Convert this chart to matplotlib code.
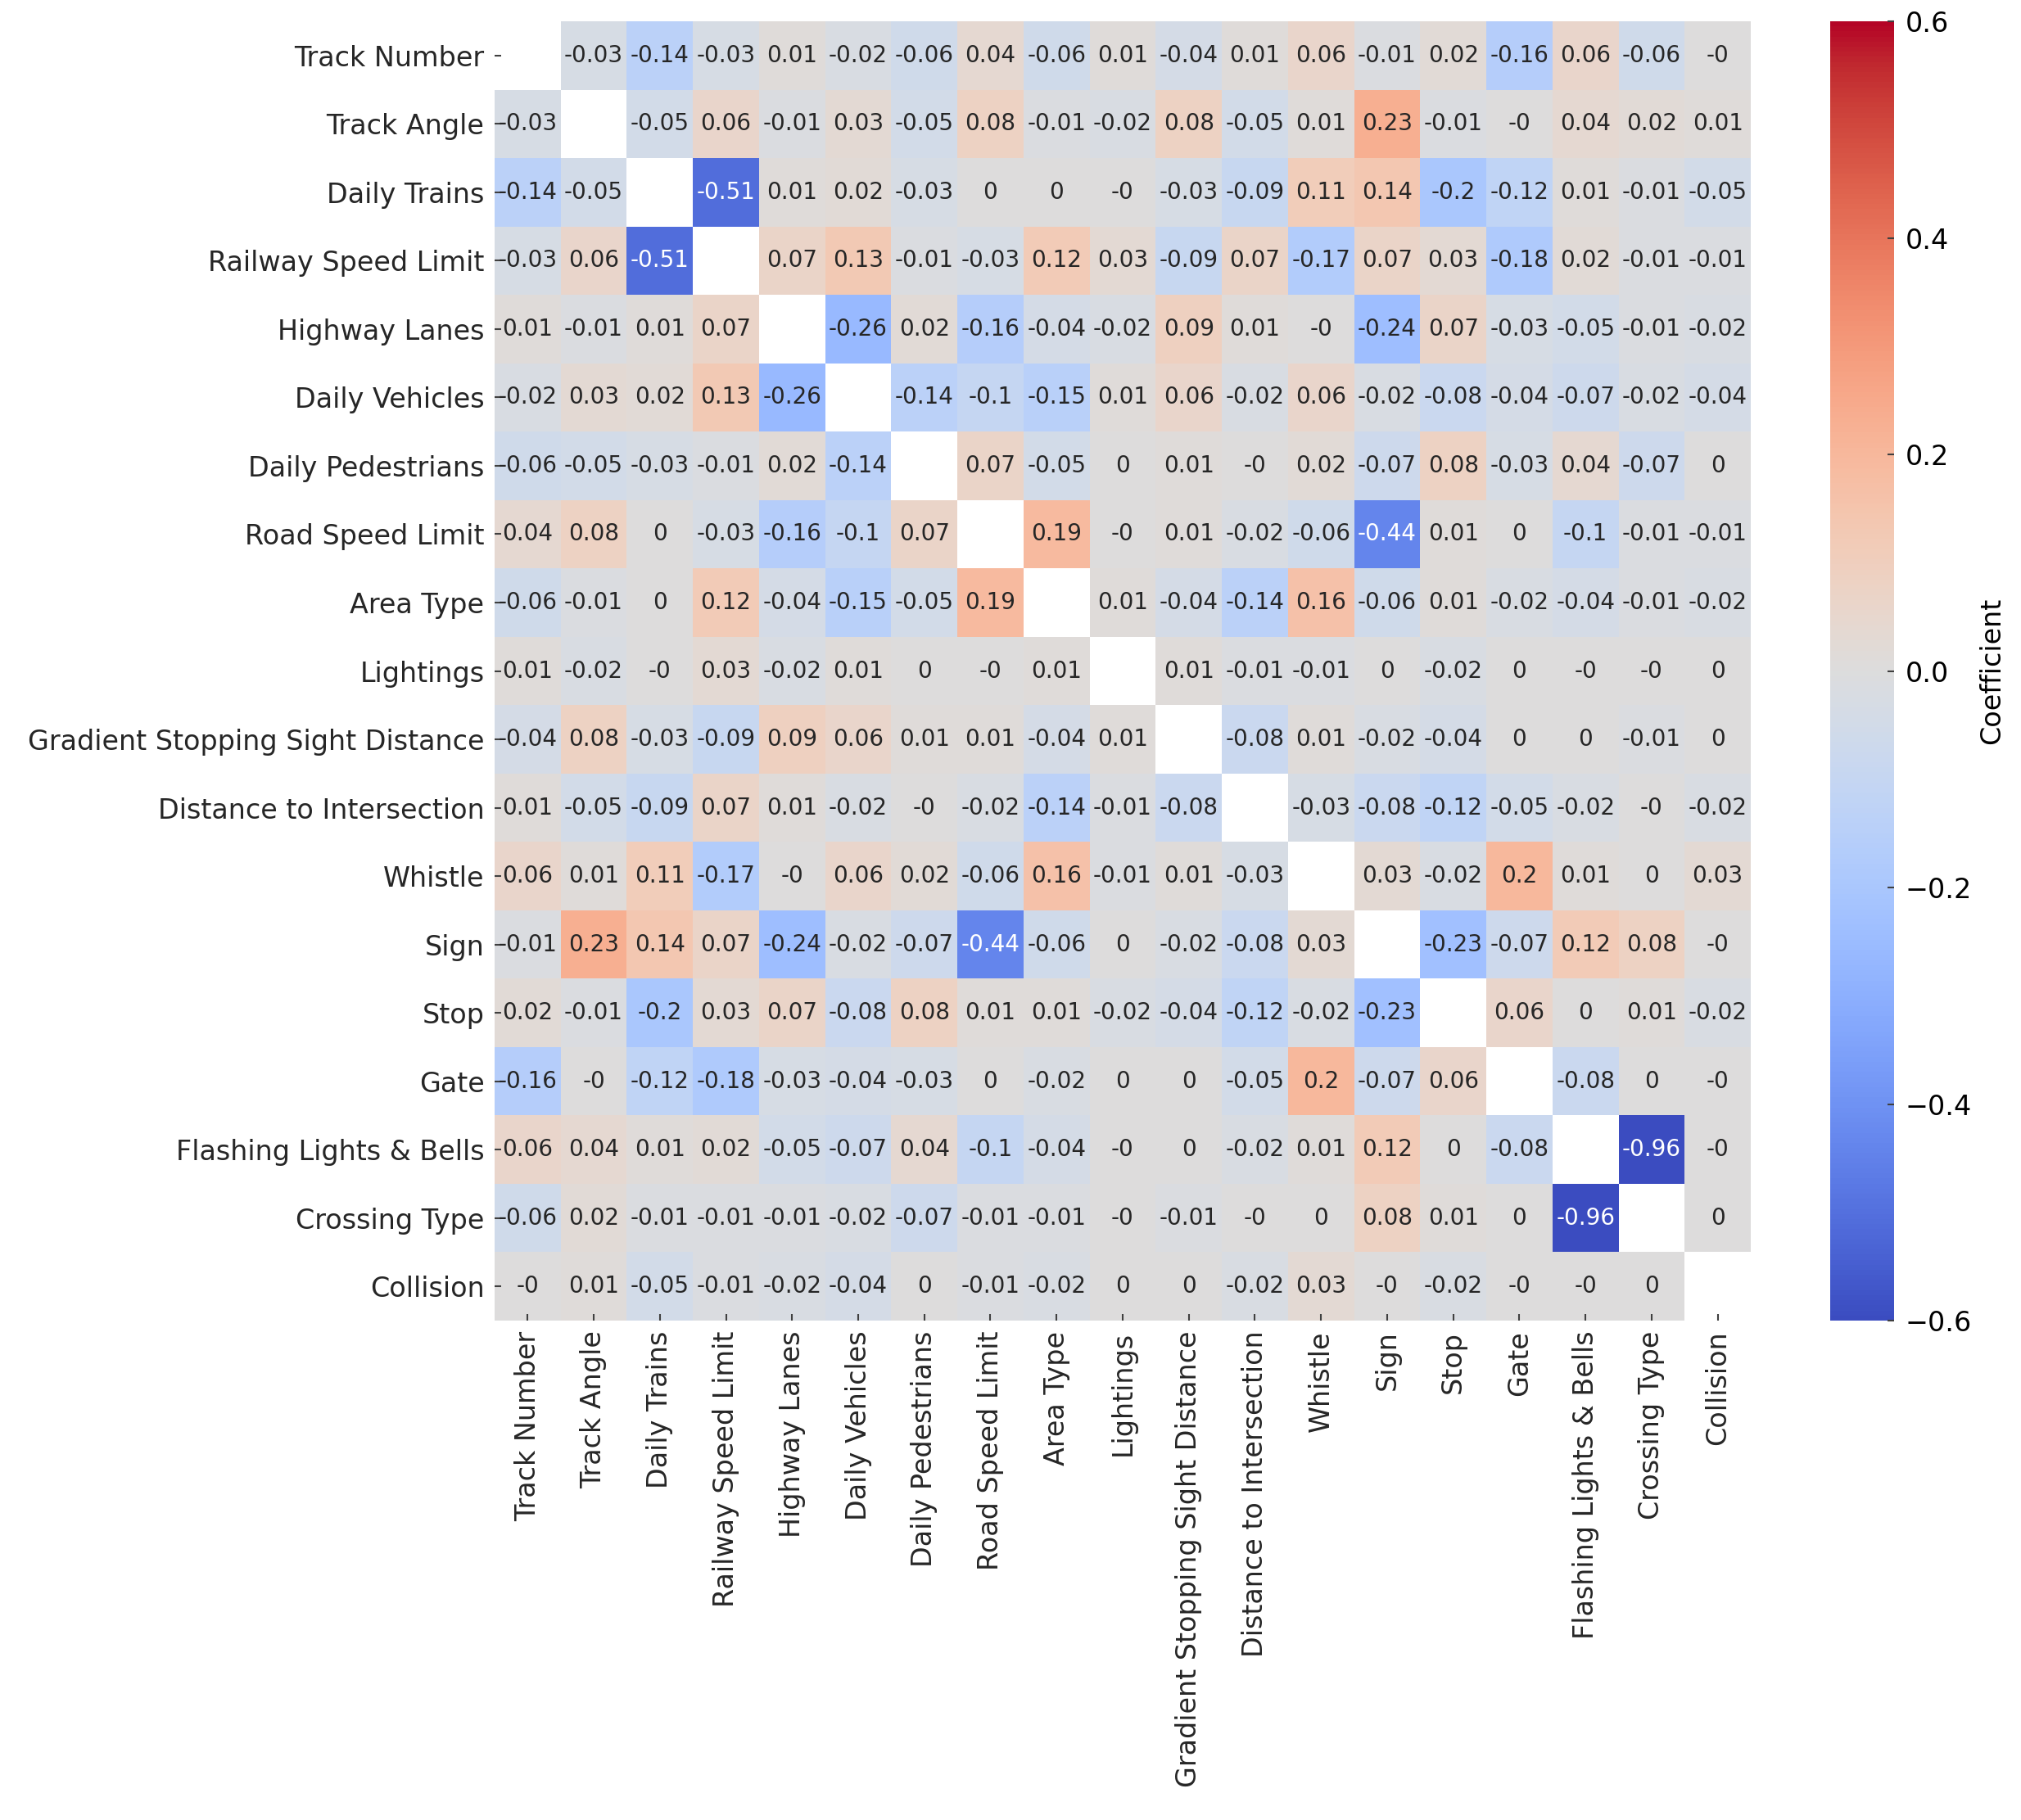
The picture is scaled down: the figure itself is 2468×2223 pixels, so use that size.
import matplotlib
matplotlib.use('Agg')
import matplotlib.pyplot as plt
import numpy as np

labels = [
    'Track Number', 'Track Angle', 'Daily Trains', 'Railway Speed Limit',
    'Highway Lanes', 'Daily Vehicles', 'Daily Pedestrians', 'Road Speed Limit',
    'Area Type', 'Lightings', 'Gradient Stopping Sight Distance',
    'Distance to Intersection', 'Whistle', 'Sign', 'Stop', 'Gate',
    'Flashing Lights & Bells', 'Crossing Type', 'Collision',
]

nan = np.nan
# correlation coefficients, rounded to 2 decimals (diagonal left blank)
corr_rows = [
    [nan, -0.03, -0.14, -0.03, 0.01, -0.02, -0.06, 0.04, -0.06, 0.01, -0.04, 0.01, 0.06, -0.01, 0.02, -0.16, 0.06, -0.06, -0.0],
    [-0.03, nan, -0.05, 0.06, -0.01, 0.03, -0.05, 0.08, -0.01, -0.02, 0.08, -0.05, 0.01, 0.23, -0.01, -0.0, 0.04, 0.02, 0.01],
    [-0.14, -0.05, nan, -0.51, 0.01, 0.02, -0.03, 0.0, 0.0, -0.0, -0.03, -0.09, 0.11, 0.14, -0.2, -0.12, 0.01, -0.01, -0.05],
    [-0.03, 0.06, -0.51, nan, 0.07, 0.13, -0.01, -0.03, 0.12, 0.03, -0.09, 0.07, -0.17, 0.07, 0.03, -0.18, 0.02, -0.01, -0.01],
    [0.01, -0.01, 0.01, 0.07, nan, -0.26, 0.02, -0.16, -0.04, -0.02, 0.09, 0.01, -0.0, -0.24, 0.07, -0.03, -0.05, -0.01, -0.02],
    [-0.02, 0.03, 0.02, 0.13, -0.26, nan, -0.14, -0.1, -0.15, 0.01, 0.06, -0.02, 0.06, -0.02, -0.08, -0.04, -0.07, -0.02, -0.04],
    [-0.06, -0.05, -0.03, -0.01, 0.02, -0.14, nan, 0.07, -0.05, 0.0, 0.01, -0.0, 0.02, -0.07, 0.08, -0.03, 0.04, -0.07, 0.0],
    [0.04, 0.08, 0.0, -0.03, -0.16, -0.1, 0.07, nan, 0.19, -0.0, 0.01, -0.02, -0.06, -0.44, 0.01, 0.0, -0.1, -0.01, -0.01],
    [-0.06, -0.01, 0.0, 0.12, -0.04, -0.15, -0.05, 0.19, nan, 0.01, -0.04, -0.14, 0.16, -0.06, 0.01, -0.02, -0.04, -0.01, -0.02],
    [0.01, -0.02, -0.0, 0.03, -0.02, 0.01, 0.0, -0.0, 0.01, nan, 0.01, -0.01, -0.01, 0.0, -0.02, 0.0, -0.0, -0.0, 0.0],
    [-0.04, 0.08, -0.03, -0.09, 0.09, 0.06, 0.01, 0.01, -0.04, 0.01, nan, -0.08, 0.01, -0.02, -0.04, 0.0, 0.0, -0.01, 0.0],
    [0.01, -0.05, -0.09, 0.07, 0.01, -0.02, -0.0, -0.02, -0.14, -0.01, -0.08, nan, -0.03, -0.08, -0.12, -0.05, -0.02, -0.0, -0.02],
    [0.06, 0.01, 0.11, -0.17, -0.0, 0.06, 0.02, -0.06, 0.16, -0.01, 0.01, -0.03, nan, 0.03, -0.02, 0.2, 0.01, 0.0, 0.03],
    [-0.01, 0.23, 0.14, 0.07, -0.24, -0.02, -0.07, -0.44, -0.06, 0.0, -0.02, -0.08, 0.03, nan, -0.23, -0.07, 0.12, 0.08, -0.0],
    [0.02, -0.01, -0.2, 0.03, 0.07, -0.08, 0.08, 0.01, 0.01, -0.02, -0.04, -0.12, -0.02, -0.23, nan, 0.06, 0.0, 0.01, -0.02],
    [-0.16, -0.0, -0.12, -0.18, -0.03, -0.04, -0.03, 0.0, -0.02, 0.0, 0.0, -0.05, 0.2, -0.07, 0.06, nan, -0.08, 0.0, -0.0],
    [0.06, 0.04, 0.01, 0.02, -0.05, -0.07, 0.04, -0.1, -0.04, -0.0, 0.0, -0.02, 0.01, 0.12, 0.0, -0.08, nan, -0.96, -0.0],
    [-0.06, 0.02, -0.01, -0.01, -0.01, -0.02, -0.07, -0.01, -0.01, -0.0, -0.01, -0.0, 0.0, 0.08, 0.01, 0.0, -0.96, nan, 0.0],
    [-0.0, 0.01, -0.05, -0.01, -0.02, -0.04, 0.0, -0.01, -0.02, 0.0, 0.0, -0.02, 0.03, -0.0, -0.02, -0.0, -0.0, 0.0, nan],
]

cbar_ticks = [-0.6, -0.4, -0.2, 0.0, 0.2, 0.4, 0.6]


def text_color(rgba):
    # same rule seaborn uses for annotation contrast
    rgb = np.asarray(rgba[:3])
    rgb = np.where(rgb <= .03928, rgb / 12.92, ((rgb + .055) / 1.055) ** 2.4)
    lum = rgb.dot([.2126, .7152, .0722])
    return '0.15' if lum > .408 else 'w'


corr = np.array(corr_rows, dtype=float)
n = len(labels)

fig = plt.figure(figsize=(24.68, 22.23), dpi=100)
ax = fig.add_axes([0.2447, 0.2744, 0.6216, 0.7139])
cax = fig.add_axes([0.9056, 0.2744, 0.0316, 0.7139])

cmap = plt.get_cmap('coolwarm')
mesh = ax.pcolormesh(np.ma.masked_invalid(corr), cmap=cmap, vmin=-0.6, vmax=0.6)
ax.set_xlim(0, n)
ax.set_ylim(n, 0)

for i in range(n):
    for j in range(n):
        v = corr[i, j]
        if np.isnan(v):
            continue
        rgba = cmap(mesh.norm(v))
        ax.text(j + 0.5, i + 0.5, format(v, 'g'), ha='center', va='center',
                fontsize=20, color=text_color(rgba))

ax.set_xticks(np.arange(n) + 0.5)
ax.set_yticks(np.arange(n) + 0.5)
ax.set_xticklabels(labels, rotation=90, fontsize=24, color='0.15')
ax.set_yticklabels(labels, fontsize=24, color='0.15')
ax.tick_params(axis='both', direction='in', length=6, width=1.5, color='0.25', pad=9)
for s in ax.spines.values():
    s.set_visible(False)

cbar = fig.colorbar(mesh, cax=cax, ticks=cbar_ticks)
cbar.outline.set_visible(False)
cbar.ax.tick_params(direction='in', length=6, width=1.5, color='0.25', labelsize=24, pad=10)
cbar.set_label('Coefficient', fontsize=24, labelpad=6)

fig.savefig('out.png', dpi=100)
